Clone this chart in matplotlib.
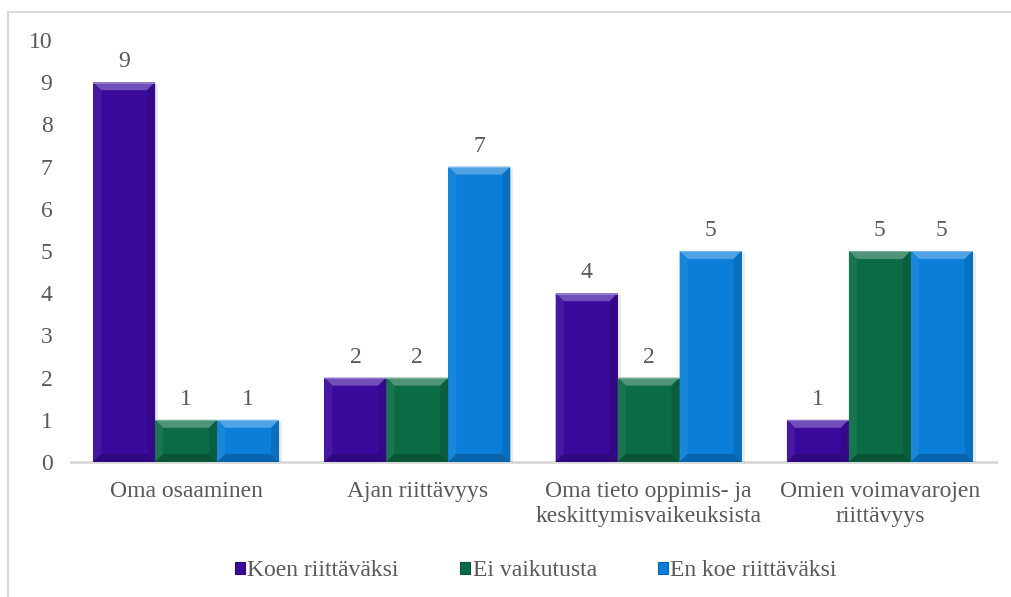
import matplotlib
matplotlib.use("Agg")
import matplotlib.pyplot as plt
import numpy as np
from matplotlib.patches import Polygon, Rectangle
from matplotlib.colors import to_rgb

categories = ["Oma osaaminen", "Ajan riittävyys", "Oma tieto oppimis- ja\nkeskittymisvaikeuksista", "Omien voimavarojen\nriittävyys"]
series_names = ["Koen riittäväksi", "Ei vaikutusta", "En koe riittäväksi"]
koen = [9, 2, 4, 1]
ei_vaik = [1, 2, 2, 5]
en_koe = [1, 7, 5, 5]
yticks = list(range(0, 11))

colors = ["#3b0a9c", "#0b6b45", "#0a7ed8"]
text_color = "#595959"
FS = 17
plt.rcParams['font.family'] = ['Liberation Serif', 'DejaVu Serif']

W, H = 1011, 597
fig = plt.figure(figsize=(W / 100, H / 100), dpi=100)
ax = fig.add_axes([70.5 / W, (H - 462) / H, (995.5 - 70.5) / W, (462 - 40) / H])

x = np.arange(len(categories))
bw = 0.268
data = [koen, ei_vaik, en_koe]
ax.set_xlim(-0.5, len(categories) - 0.5)
ax.set_ylim(0, 10)

def shade(c, f):
    r = np.array(to_rgb(c))
    if f > 0:
        return tuple(r + (1 - r) * f)
    return tuple(r * (1 + f))

bars_all = []
for i, (vals, col) in enumerate(zip(data, colors)):
    bars = ax.bar(x + (i - 1) * bw, vals, bw, color=col, zorder=3, linewidth=0)
    bars_all.append((bars, col))
    for b, v in zip(bars, vals):
        ax.annotate(str(v), (b.get_x() + b.get_width() / 2, v), xytext=(0, 7),
                    textcoords="offset points", ha="center", va="bottom",
                    fontsize=FS, color=text_color)

fig.canvas.draw()
inv = ax.transData.inverted()
for bars, col in bars_all:
    for b in bars:
        (px0, py0) = ax.transData.transform((b.get_x(), 0))
        (px1, py1) = ax.transData.transform((b.get_x() + b.get_width(), b.get_height()))
        bv = 8
        def d(p):
            return inv.transform(p)
        polys = [
            ([(px0, py1), (px1, py1), (px1 - bv, py1 - bv), (px0 + bv, py1 - bv)], shade(col, 0.28)),
            ([(px0, py0), (px0, py1), (px0 + bv, py1 - bv), (px0 + bv, py0 + bv)], shade(col, 0.06)),
            ([(px1, py0), (px1, py1), (px1 - bv, py1 - bv), (px1 - bv, py0 + bv)], shade(col, -0.12)),
            ([(px0, py0), (px1, py0), (px1 - bv, py0 + bv), (px0 + bv, py0 + bv)], shade(col, -0.2)),
        ]
        for pts, c in polys:
            ax.add_patch(Polygon([d(p) for p in pts], closed=True, facecolor=c,
                                 edgecolor="none", zorder=4))
        ax.add_patch(Polygon([d((px0, py1)), d((px1, py1)), d((px1, py1 - 1.5)), d((px0, py1 - 1.5))],
                             facecolor=shade(col, 0.45), edgecolor="none", zorder=5))
        ax.add_patch(Polygon([d((px1, py0)), d((px1 + 3, py0)), d((px1 + 3, py1 - 2)), d((px1, py1 - 2))],
                             facecolor=(0, 0, 0, 0.08), edgecolor="none", zorder=2))

for s in ["top", "right", "left"]:
    ax.spines[s].set_visible(False)
ax.spines["bottom"].set_color("#d9d9d9")
ax.spines["bottom"].set_linewidth(2)
ax.spines["bottom"].set_zorder(1)
ax.set_yticks(yticks)
ax.set_yticklabels([str(t) for t in yticks])
ax.tick_params(axis="y", length=0, pad=13, labelsize=FS, labelcolor=text_color)
ax.set_xticks(x)
ax.set_xticklabels(categories)
ax.tick_params(axis="x", length=0, pad=14, labelsize=FS, labelcolor=text_color)
for lab in ax.get_xticklabels():
    lab.set_linespacing(1.25)

handles = [Rectangle((0, 0), 1, 1, facecolor=c, edgecolor=shade(c, -0.2), linewidth=0.8) for c in colors]
leg = fig.legend(handles, series_names, loc="center", bbox_to_anchor=(536 / W, (H - 571) / H),
                 ncol=3, frameon=False, fontsize=FS, handlelength=0.42, handleheight=0.42,
                 handletextpad=0.1, columnspacing=2.6, labelcolor=text_color)

fig.add_artist(Rectangle((8 / W, -0.05), 1.1, (H - 12) / H + 0.05, transform=fig.transFigure,
                         facecolor="none", edgecolor="#d9d9d9", linewidth=1.5))

fig.savefig("out.png", dpi=100)
